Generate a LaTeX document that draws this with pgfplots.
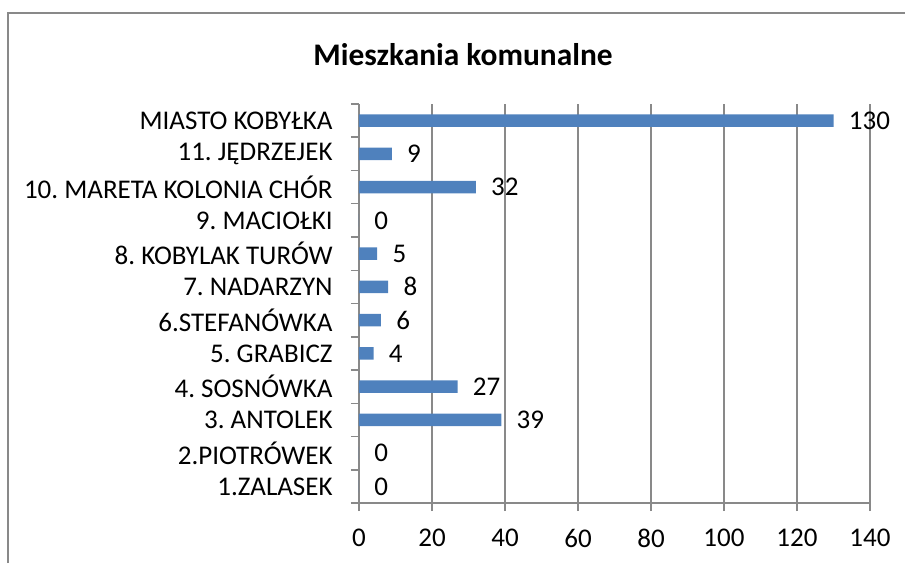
\documentclass[border=0pt]{standalone}
\usepackage{fontspec}
\setmainfont{Carlito}
\usepackage{pgfplots}
\pgfplotsset{compat=1.18}
\definecolor{barblue}{HTML}{4F81BD}
\definecolor{gridgray}{HTML}{898989}
\frenchspacing
\begin{document}
\frenchspacing
\begin{tikzpicture}
\useasboundingbox (0,0) rectangle (453pt,281.5pt);
\draw[gridgray, line width=0.75pt] (4pt,0) -- (4pt,275pt) -- (452.5pt,275pt);
\node[font=\fontsize{15.7pt}{18pt}\selectfont\bfseries] at (231.5pt,254pt) {Mieszkania komunalne};
\begin{axis}[
  at={(179.5pt,30pt)}, anchor=south west,
  scale only axis, width=255.5pt, height=199.5pt,
  xbar, bar width=0.38,
  xmin=0, xmax=140, ymin=-0.5, ymax=11.5,
  xtick={0,20,...,140},
  ytick={0,...,11},
  yticklabels={1.ZALASEK,2.PIOTRÓWEK,3. ANTOLEK,4. SOSNÓWKA,5. GRABICZ,6.STEFANÓWKA,7. NADARZYN,8. KOBYLAK TURÓW,9. MACIOŁKI,10. MARETA KOLONIA CHÓR,11. JĘDRZEJEK,MIASTO KOBYŁKA},
  minor ytick={-0.5,0.5,...,11.5},
  every major y tick/.style={draw=none},
  every minor y tick/.style={gridgray, line width=0.75pt},
  every major x tick/.style={gridgray, line width=0.75pt},
  major tick length=4pt, minor tick length=4pt,
  tick align=outside,
  axis x line*=bottom, axis y line*=left,
  axis line style={gridgray, line width=0.75pt, -},
  xmajorgrids, grid style={gridgray, line width=0.75pt},
  /pgf/number format/assume math mode=true,
  tick label style={font=\fontsize{13.5pt}{15pt}\selectfont\frenchspacing, black},
  yticklabel style={anchor=east, inner sep=0pt, xshift=-9pt},
  xticklabel style={anchor=north, inner sep=0pt, yshift=-9pt},
  nodes near coords,
  every node near coord/.append style={font=\fontsize{13.5pt}{15pt}\selectfont, anchor=west, inner sep=0pt, xshift=7.5pt, black},
  clip=false,
]
\addplot[fill=barblue, draw=none] coordinates {
(0,0) (0,1) (39,2) (27,3) (4,4) (6,5) (8,6) (5,7) (0,8) (32,9) (9,10) (130,11)
};
\end{axis}
\end{tikzpicture}
\end{document}
